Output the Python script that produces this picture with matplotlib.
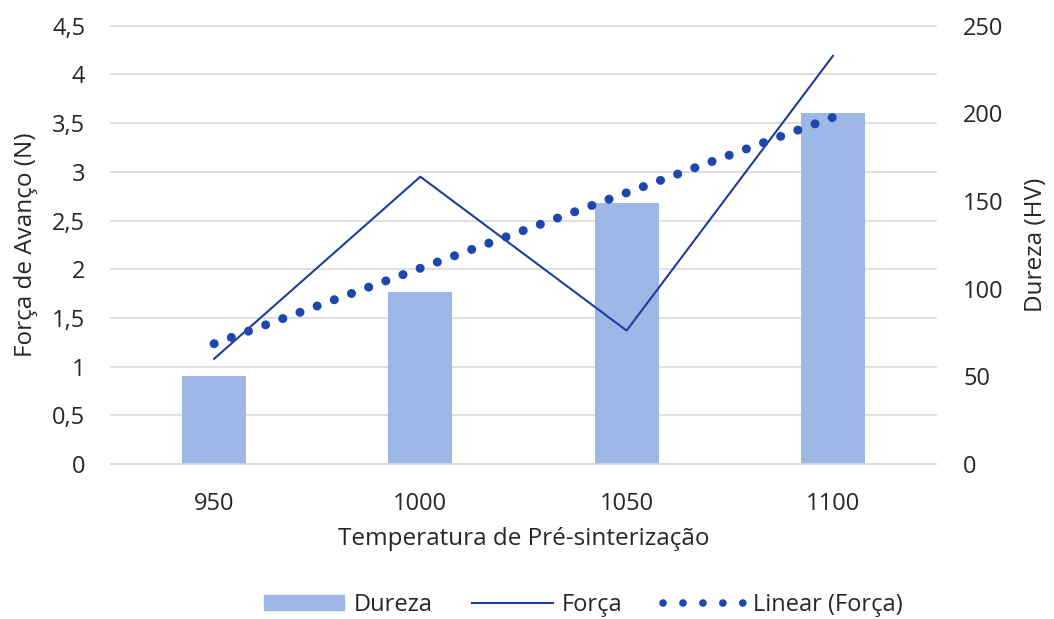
import numpy as np
import matplotlib
matplotlib.use('Agg')
import matplotlib.pyplot as plt
import matplotlib.transforms as mtrans
from matplotlib.lines import Line2D
from matplotlib.patches import Patch

# data
temperaturas = ['950', '1000', '1050', '1100']
dureza = [50, 98, 149, 200]          # HV, right axis
forca = [1.08, 2.95, 1.37, 4.19]     # N, left axis
left_ticks = np.arange(0, 4.51, 0.5)
right_ticks = np.arange(0, 251, 50)

bar_color = '#9DB8E7'
line_color = '#203C9C'
dot_color = '#1E47AE'
grid_color = '#D9D9D9'
txt_color = '#262626'

plt.rcParams['font.family'] = ['Open Sans', 'DejaVu Sans']

fig = plt.figure(figsize=(10.54, 6.19), dpi=100)
ax = fig.add_axes([0.1053, 0.2504, 0.7827, 0.708])
ax2 = ax.twinx()
ax.set_zorder(ax2.get_zorder() + 1)
ax.patch.set_visible(False)

x = np.arange(len(temperaturas))

# grid behind bars, in left-axis units
tr = mtrans.blended_transform_factory(ax2.transAxes, ax.transData)
for t in left_ticks:
    ax2.plot([0, 1], [t, t], transform=tr, color=grid_color, lw=1.2, zorder=0, clip_on=False)

ax2.bar(x, dureza, width=0.31, color=bar_color, zorder=2)
ax.plot(x, forca, color=line_color, lw=1.5, zorder=3)

# linear trend of Força
dots = (0, (0.01, 2.015))
coef = np.polyfit(x, forca, 1)
ax.plot(x, np.polyval(coef, x), color=dot_color, lw=6.5, linestyle=dots,
        dash_capstyle='round', zorder=4)

ax.set_xlim(-0.5, 3.5)
ax.set_ylim(0, 4.5)
ax2.set_ylim(0, 250)
ax.set_yticks(left_ticks)
ax.set_yticklabels([('%g' % t).replace('.', ',') for t in left_ticks])
ax2.set_yticks(right_ticks)
ax.set_xticks(x)
ax.set_xticklabels(temperaturas)

for a in (ax, ax2):
    for s in a.spines.values():
        s.set_visible(False)
    a.tick_params(length=0, colors=txt_color, labelsize=17)
ax.spines['bottom'].set_visible(True)
ax.spines['bottom'].set_color(grid_color)
ax.spines['bottom'].set_linewidth(1.2)
ax.tick_params(axis='y', pad=18.5)
ax2.tick_params(axis='y', pad=19.5)
ax.tick_params(axis='x', pad=20)

ax.set_xlabel('Temperatura de Pré-sinterização', fontsize=17.5, color=txt_color, labelpad=8)
ax.set_ylabel('Força de Avanço (N)', fontsize=17.5, color=txt_color, labelpad=10)
ax2.set_ylabel('Dureza (HV)', fontsize=17.5, color=txt_color, labelpad=15)

handles = [Patch(color=bar_color),
           Line2D([], [], color=line_color, lw=1.5),
           Line2D([], [], color=dot_color, lw=5.5, linestyle=(0, (0.01, 2.6)), dash_capstyle='round')]
fig.legend(handles, ['Dureza', 'Força', 'Linear (Força)'], loc='center', ncol=3,
           bbox_to_anchor=(0.553, 0.023), frameon=False, fontsize=17,
           handlelength=3.4, handleheight=0.55, columnspacing=1.7, handletextpad=0.4,
           labelcolor=txt_color)

fig.savefig('out.png', dpi=100)
